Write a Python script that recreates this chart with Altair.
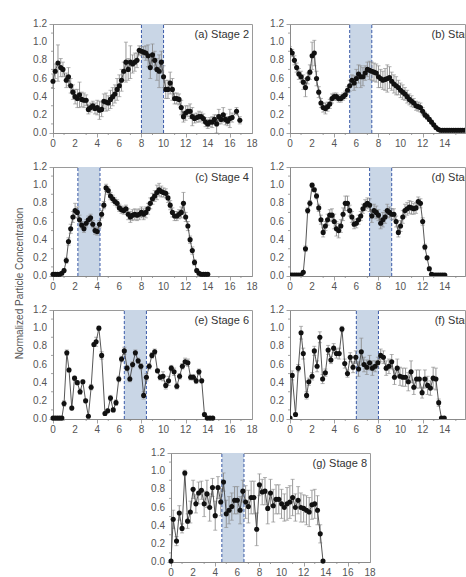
import altair as alt
import pandas as pd

# ---- data: normalized particle concentration vs. position, per stage ----
xa = [0.0, 0.2, 0.45, 0.7, 0.9, 1.2, 1.4, 1.6, 1.8, 2.0, 2.2, 2.4, 2.6, 2.8, 3.0, 3.2, 3.4, 3.6, 3.8, 4.0,
      4.2, 4.4, 4.6, 4.8, 5.0, 5.2, 5.4, 5.6, 5.8, 6.0, 6.2, 6.4, 6.6, 6.8, 7.0, 7.2, 7.4, 7.6, 7.8, 8.0,
      8.2, 8.4, 8.6, 8.8, 9.0, 9.2, 9.4, 9.6, 9.8, 10.0, 10.2, 10.4, 10.6, 10.8, 11.0, 11.2, 11.4, 11.6, 11.8, 12.0,
      12.2, 12.4, 12.6, 12.8, 13.0, 13.2, 13.4, 13.6, 13.8, 14.0, 14.2, 14.4, 14.6, 14.8, 15.0, 15.2, 15.4, 15.6, 15.8, 16.0,
      16.2, 16.6, 16.9]
ya = [0.57, 0.68, 0.77, 0.72, 0.70, 0.58, 0.62, 0.52, 0.45, 0.40, 0.38, 0.42, 0.37, 0.36, 0.36, 0.26, 0.28, 0.30, 0.27, 0.28,
      0.25, 0.26, 0.35, 0.34, 0.33, 0.37, 0.40, 0.43, 0.48, 0.52, 0.58, 0.68, 0.78, 0.70, 0.78, 0.76, 0.78, 0.80, 0.91, 0.90,
      0.89, 0.88, 0.85, 0.72, 0.86, 0.80, 0.70, 0.68, 0.78, 0.62, 0.48, 0.48, 0.55, 0.48, 0.38, 0.38, 0.37, 0.28, 0.18, 0.22,
      0.24, 0.24, 0.18, 0.16, 0.17, 0.18, 0.18, 0.16, 0.12, 0.10, 0.12, 0.12, 0.15, 0.10, 0.18, 0.15, 0.20, 0.15, 0.13, 0.16,
      0.17, 0.24, 0.14]
ea = [0.08, 0.08, 0.20, 0.10, 0.08, 0.08, 0.10, 0.08, 0.08, 0.08, 0.10, 0.14, 0.08, 0.08, 0.06, 0.05, 0.05, 0.05, 0.06, 0.08,
      0.10, 0.08, 0.08, 0.10, 0.08, 0.10, 0.10, 0.10, 0.12, 0.12, 0.12, 0.10, 0.22, 0.12, 0.18, 0.10, 0.10, 0.08, 0.05, 0.05,
      0.06, 0.08, 0.12, 0.12, 0.12, 0.10, 0.12, 0.18, 0.12, 0.12, 0.10, 0.10, 0.12, 0.12, 0.06, 0.06, 0.06, 0.08, 0.06, 0.08,
      0.06, 0.08, 0.10, 0.05, 0.05, 0.06, 0.05, 0.05, 0.05, 0.05, 0.05, 0.06, 0.05, 0.10, 0.08, 0.05, 0.08, 0.06, 0.05, 0.10,
      0.05, 0.04, 0.04]

xb = [0.0, 0.2, 0.4, 0.6, 0.8, 1.0, 1.2, 1.4, 1.6, 1.8, 2.0, 2.2, 2.4, 2.6, 2.8, 3.0, 3.2, 3.4, 3.6, 3.8,
      4.0, 4.2, 4.4, 4.6, 4.8, 5.0, 5.2, 5.4, 5.6, 5.8, 6.0, 6.2, 6.4, 6.6, 6.8, 7.0, 7.2, 7.4, 7.6, 7.8,
      8.0, 8.2, 8.4, 8.6, 8.8, 9.0, 9.2, 9.4, 9.6, 9.8, 10.0, 10.2, 10.4, 10.6, 10.8, 11.0, 11.2, 11.4, 11.6, 11.8,
      12.0, 12.2, 12.4, 12.6, 12.8, 13.0, 13.2, 13.4, 13.6, 13.8, 14.0, 14.2, 14.4, 14.6, 14.8, 15.0, 15.2, 15.4, 15.6, 15.8,
      16.0]
yb = [0.91, 0.88, 0.80, 0.72, 0.65, 0.62, 0.56, 0.50, 0.60, 0.67, 0.85, 0.88, 0.60, 0.45, 0.33, 0.28, 0.27, 0.29, 0.32, 0.38,
      0.40, 0.40, 0.38, 0.38, 0.40, 0.42, 0.47, 0.52, 0.58, 0.55, 0.60, 0.65, 0.62, 0.62, 0.66, 0.70, 0.69, 0.68, 0.67, 0.66,
      0.62, 0.60, 0.58, 0.59, 0.60, 0.61, 0.57, 0.54, 0.52, 0.50, 0.47, 0.45, 0.43, 0.40, 0.37, 0.35, 0.33, 0.30, 0.29, 0.28,
      0.24, 0.20, 0.18, 0.15, 0.12, 0.09, 0.06, 0.04, 0.03, 0.03, 0.03, 0.03, 0.03, 0.03, 0.03, 0.03, 0.03, 0.03, 0.03, 0.03,
      0.03]
eb = [0.04, 0.04, 0.05, 0.05, 0.06, 0.06, 0.08, 0.10, 0.06, 0.08, 0.15, 0.14, 0.08, 0.06, 0.05, 0.05, 0.06, 0.05, 0.05, 0.05,
      0.04, 0.04, 0.04, 0.04, 0.04, 0.04, 0.04, 0.06, 0.06, 0.08, 0.10, 0.10, 0.12, 0.10, 0.08, 0.08, 0.10, 0.10, 0.10, 0.10,
      0.12, 0.10, 0.10, 0.12, 0.15, 0.12, 0.10, 0.10, 0.10, 0.08, 0.08, 0.08, 0.07, 0.07, 0.06, 0.06, 0.05, 0.05, 0.05, 0.05,
      0.04, 0.03, 0.03, 0.02, 0.02, 0.01, 0.01, 0.01, 0.01, 0.01, 0.01, 0.01, 0.01, 0.01, 0.01, 0.01, 0.01, 0.01, 0.01, 0.01,
      0.01]

xc = [0.0, 0.2, 0.4, 0.6, 0.8, 1.0, 1.2, 1.4, 1.6, 1.8, 2.0, 2.2, 2.4, 2.6, 2.8, 3.0, 3.2, 3.4, 3.6, 3.8,
      4.0, 4.2, 4.4, 4.6, 4.8, 5.0, 5.2, 5.4, 5.6, 5.8, 6.0, 6.2, 6.4, 6.6, 6.8, 7.0, 7.2, 7.4, 7.6, 7.8,
      8.0, 8.2, 8.4, 8.6, 8.8, 9.0, 9.2, 9.4, 9.6, 9.8, 10.0, 10.2, 10.4, 10.6, 10.8, 11.0, 11.2, 11.4, 11.6, 11.8,
      12.0, 12.2, 12.4, 12.6, 12.8, 13.0, 13.2, 13.4, 13.6, 13.8, 14.0]
yc = [0.02, 0.02, 0.02, 0.02, 0.03, 0.06, 0.17, 0.38, 0.52, 0.65, 0.72, 0.70, 0.62, 0.56, 0.52, 0.58, 0.62, 0.64, 0.57, 0.50,
      0.49, 0.57, 0.68, 0.78, 0.97, 0.94, 0.88, 0.85, 0.82, 0.80, 0.75, 0.73, 0.72, 0.74, 0.68, 0.65, 0.67, 0.68, 0.67, 0.68,
      0.70, 0.68, 0.70, 0.74, 0.80, 0.85, 0.88, 0.92, 0.95, 0.93, 0.92, 0.91, 0.86, 0.78, 0.70, 0.66, 0.66, 0.68, 0.70, 0.80,
      0.65, 0.55, 0.40, 0.28, 0.15, 0.06, 0.03, 0.02, 0.02, 0.02, 0.02]
ec = [0.01, 0.01, 0.01, 0.01, 0.01, 0.02, 0.03, 0.04, 0.05, 0.06, 0.08, 0.06, 0.05, 0.04, 0.04, 0.04, 0.04, 0.04, 0.04, 0.04,
      0.04, 0.04, 0.04, 0.04, 0.04, 0.04, 0.04, 0.04, 0.04, 0.04, 0.04, 0.04, 0.04, 0.04, 0.06, 0.06, 0.06, 0.06, 0.06, 0.06,
      0.06, 0.06, 0.06, 0.06, 0.06, 0.06, 0.06, 0.08, 0.07, 0.06, 0.05, 0.05, 0.05, 0.05, 0.05, 0.05, 0.05, 0.05, 0.06, 0.12,
      0.05, 0.05, 0.04, 0.04, 0.03, 0.02, 0.01, 0.01, 0.01, 0.01, 0.01]

xd = list(xc)
yd = [0.01, 0.01, 0.01, 0.01, 0.01, 0.01, 0.04, 0.30, 0.72, 0.80, 1.00, 0.95, 0.88, 0.75, 0.62, 0.48, 0.55, 0.62, 0.67, 0.67,
      0.60, 0.52, 0.50, 0.55, 0.68, 0.80, 0.80, 0.72, 0.65, 0.57, 0.58, 0.62, 0.66, 0.74, 0.78, 0.80, 0.78, 0.66, 0.72, 0.70,
      0.67, 0.58, 0.62, 0.65, 0.72, 0.70, 0.68, 0.68, 0.60, 0.48, 0.55, 0.65, 0.72, 0.74, 0.76, 0.75, 0.74, 0.75, 0.82, 0.80,
      0.60, 0.32, 0.20, 0.08, 0.02, 0.01, 0.01, 0.01, 0.01, 0.01, 0.01]
ed = [0.01, 0.01, 0.01, 0.01, 0.01, 0.01, 0.01, 0.03, 0.03, 0.03, 0.02, 0.02, 0.03, 0.04, 0.05, 0.05, 0.05, 0.06, 0.06, 0.07,
      0.08, 0.08, 0.08, 0.07, 0.07, 0.08, 0.08, 0.06, 0.06, 0.05, 0.05, 0.05, 0.05, 0.05, 0.06, 0.06, 0.07, 0.07, 0.07, 0.07,
      0.06, 0.06, 0.08, 0.07, 0.07, 0.06, 0.06, 0.06, 0.06, 0.05, 0.06, 0.07, 0.07, 0.07, 0.07, 0.07, 0.06, 0.06, 0.05, 0.05,
      0.04, 0.03, 0.02, 0.02, 0.01, 0.01, 0.01, 0.01, 0.01, 0.01, 0.01]

xe = [0.0, 0.2, 0.4, 0.6, 0.8, 1.0, 1.25, 1.45, 1.7, 1.95, 2.2, 2.45, 2.7, 2.95, 3.2, 3.45, 3.7, 3.9, 4.15, 4.4,
      4.7, 4.95, 5.2, 5.45, 5.7, 5.95, 6.2, 6.45, 6.7, 6.95, 7.2, 7.45, 7.7, 7.95, 8.2, 8.45, 8.7, 8.95, 9.2, 9.45,
      9.7, 9.95, 10.2, 10.45, 10.7, 10.95, 11.2, 11.45, 11.7, 11.95, 12.2, 12.45, 12.7, 12.95, 13.2, 13.45, 13.7, 13.95, 14.2, 14.45]
ye = [0.01, 0.01, 0.01, 0.01, 0.01, 0.17, 0.73, 0.54, 0.12, 0.45, 0.40, 0.30, 0.41, 0.20, 0.03, 0.35, 0.82, 0.85, 1.00, 0.70,
      0.06, 0.09, 0.23, 0.10, 0.18, 0.44, 0.66, 0.75, 0.56, 0.44, 0.60, 0.73, 0.64, 0.58, 0.26, 0.46, 0.58, 0.70, 0.74, 0.53,
      0.46, 0.47, 0.37, 0.42, 0.56, 0.52, 0.36, 0.47, 0.58, 0.63, 0.62, 0.46, 0.46, 0.42, 0.52, 0.42, 0.05, 0.01, 0.01, 0.01]
ee = [0.01, 0.01, 0.01, 0.01, 0.01, 0.03, 0.03, 0.02, 0.02, 0.02, 0.02, 0.03, 0.02, 0.02, 0.01, 0.03, 0.02, 0.05, 0.02, 0.04,
      0.02, 0.02, 0.03, 0.02, 0.03, 0.03, 0.03, 0.04, 0.03, 0.03, 0.03, 0.03, 0.03, 0.03, 0.04, 0.04, 0.03, 0.03, 0.03, 0.02,
      0.03, 0.05, 0.04, 0.05, 0.03, 0.04, 0.03, 0.03, 0.03, 0.04, 0.04, 0.03, 0.03, 0.03, 0.03, 0.02, 0.02, 0.01, 0.01, 0.01]

xf = [0.0, 0.2, 0.5, 0.75, 1.0, 1.2, 1.5, 1.7, 2.0, 2.2, 2.45, 2.7, 2.95, 3.2, 3.45, 3.7, 3.95, 4.2, 4.45, 4.7,
      4.95, 5.2, 5.45, 5.7, 5.95, 6.2, 6.45, 6.7, 6.95, 7.2, 7.45, 7.7, 7.95, 8.2, 8.45, 8.7, 8.95, 9.2, 9.45, 9.7,
      9.95, 10.2, 10.45, 10.7, 10.95, 11.2, 11.45, 11.7, 11.95, 12.2, 12.45, 12.7, 12.95, 13.2, 13.45, 13.7, 13.95]
yf = [0.01, 0.48, 0.05, 0.56, 0.95, 0.72, 0.26, 0.41, 0.47, 0.75, 0.58, 0.90, 0.44, 0.51, 0.76, 0.65, 0.78, 0.72, 0.72, 0.99,
      0.61, 0.50, 0.68, 0.57, 0.68, 0.55, 0.74, 0.60, 0.57, 0.62, 0.56, 0.58, 0.62, 0.70, 0.68, 0.56, 0.58, 0.63, 0.46, 0.56,
      0.47, 0.46, 0.46, 0.41, 0.52, 0.35, 0.44, 0.44, 0.29, 0.44, 0.37, 0.34, 0.45, 0.44, 0.18, 0.01, 0.01]
ef = [0.01, 0.05, 0.02, 0.04, 0.07, 0.06, 0.04, 0.04, 0.04, 0.05, 0.06, 0.06, 0.05, 0.04, 0.05, 0.04, 0.05, 0.05, 0.06, 0.03,
      0.05, 0.04, 0.05, 0.06, 0.07, 0.08, 0.15, 0.08, 0.08, 0.08, 0.08, 0.06, 0.06, 0.07, 0.07, 0.08, 0.08, 0.08, 0.08, 0.10,
      0.10, 0.10, 0.10, 0.10, 0.12, 0.08, 0.10, 0.10, 0.06, 0.10, 0.10, 0.08, 0.12, 0.12, 0.04, 0.01, 0.01]

xg = [0.0, 0.2, 0.5, 0.75, 1.0, 1.25, 1.5, 1.75, 2.0, 2.25, 2.5, 2.75, 3.0, 3.25, 3.5, 3.75, 4.0, 4.25, 4.5, 4.75,
      5.0, 5.25, 5.5, 5.75, 6.0, 6.25, 6.5, 6.75, 7.0, 7.25, 7.5, 7.75, 8.0, 8.25, 8.5, 8.75, 9.0, 9.25, 9.5, 9.75,
      10.0, 10.25, 10.5, 10.75, 11.0, 11.25, 11.5, 11.75, 12.0, 12.25, 12.5, 12.75, 13.0, 13.25, 13.5, 13.75]
yg = [0.01, 0.47, 0.23, 0.54, 0.37, 0.98, 0.45, 0.55, 0.80, 0.64, 0.76, 0.79, 0.64, 0.75, 0.60, 0.82, 0.51, 0.82, 0.66, 0.88,
      0.53, 0.57, 0.61, 0.68, 0.68, 0.57, 0.78, 0.66, 0.61, 0.71, 0.71, 0.36, 0.85, 0.77, 0.78, 0.59, 0.76, 0.62, 0.69, 0.69,
      0.64, 0.60, 0.64, 0.66, 0.71, 0.60, 0.68, 0.60, 0.59, 0.57, 0.55, 0.63, 0.64, 0.57, 0.31, 0.01]
eg = [0.01, 0.10, 0.05, 0.08, 0.05, 0.03, 0.08, 0.12, 0.10, 0.10, 0.12, 0.10, 0.14, 0.15, 0.15, 0.10, 0.16, 0.12, 0.15, 0.10,
      0.15, 0.15, 0.15, 0.15, 0.15, 0.15, 0.12, 0.18, 0.18, 0.18, 0.18, 0.18, 0.12, 0.14, 0.15, 0.17, 0.15, 0.18, 0.16, 0.16,
      0.16, 0.15, 0.18, 0.18, 0.20, 0.15, 0.15, 0.16, 0.15, 0.16, 0.16, 0.16, 0.16, 0.16, 0.10, 0.01]

labels = ["(a) Stage 2", "(b) Stage 3", "(c) Stage 4", "(d) Stage 5", "(e) Stage 6", "(f) Stage 7", "(g) Stage 8"]
bands = [(8.0, 10.0), (5.4, 7.4), (2.25, 4.25), (7.2, 9.2), (6.45, 8.45), (6.0, 8.0), (4.6, 6.6)]
x_major = [0, 2, 4, 6, 8, 10, 12, 14, 16, 18]
x_minor = [1, 3, 5, 7, 9, 11, 13, 15, 17]
y_major = [0.0, 0.2, 0.4, 0.6, 0.8, 1.0, 1.2]
y_minor = [0.1, 0.3, 0.5, 0.7, 0.9, 1.1]

W, H = 199, 109          # full panel plot area
W_RIGHT = 175            # right-hand column runs off the page edge
X_MAX = 18
FONT = "Liberation Sans"
GREY = "#555555"
AXIS_GREY = "#8a8a8a"

y_scale = alt.Scale(domain=[0, 1.2], nice=False)
y_axis = alt.Axis(values=y_major, title=None, grid=False, tickSize=4, labels=False)


def panel(label, xs, ys, es, band, width=W):
    full = width >= W
    x_hi = X_MAX * width / W
    x_scale = alt.Scale(domain=[0, x_hi], nice=False, zero=False)
    x_vals = [v for v in x_major if (v <= x_hi if full else v <= x_hi - 0.3)]
    x_axis = alt.Axis(values=x_vals, title=None, grid=False, tickSize=4, labels=False)

    df = pd.DataFrame({"x": xs, "y": ys, "e": es})
    base = alt.Chart(df).transform_calculate(lo="datum.y - datum.e", hi="datum.y + datum.e")

    band_df = pd.DataFrame({"x0": [band[0]], "x1": [band[1]]})
    shade = alt.Chart(band_df).mark_rect(color="#c9d6e6").encode(
        x=alt.X("x0:Q", scale=x_scale, axis=x_axis), x2="x1:Q",
        y=alt.datum(0, scale=y_scale, axis=y_axis), y2=alt.datum(1.2),
    )
    edges = pd.DataFrame({"edge": list(band)})
    dashes = alt.Chart(edges).mark_rule(color="#3a5aa8", strokeDash=[3, 2], strokeWidth=1).encode(
        x="edge:Q", y=alt.datum(0), y2=alt.datum(1.2),
    )

    # minor ticks outside the bottom and left axis lines
    mx = alt.Chart(pd.DataFrame({"m": [v for v in x_minor if v < x_hi]})).mark_rule(
        color=AXIS_GREY, strokeWidth=0.8).encode(x="m:Q", y=alt.value(H), y2=alt.value(H + 2))
    my = alt.Chart(pd.DataFrame({"m": y_minor})).mark_rule(
        color=AXIS_GREY, strokeWidth=0.8).encode(y="m:Q", x=alt.value(0), x2=alt.value(-2))

    # tick labels, placed through the panel scales
    xl = alt.Chart(pd.DataFrame({"v": x_vals})).transform_calculate(
        t="format(datum.v, 'd')").mark_text(
        font=FONT, fontSize=10, color=GREY, baseline="top", align="center").encode(
        x="v:Q", y=alt.value(H + 6), text="t:N")
    yl = alt.Chart(pd.DataFrame({"v": y_major})).transform_calculate(
        t="format(datum.v, '.1f')").mark_text(
        font=FONT, fontSize=10, color=GREY, baseline="middle", align="right").encode(
        y="v:Q", x=alt.value(-6), text="t:N")

    clip = not full
    bars = base.mark_rule(color="#8c8c8c", strokeWidth=0.9, clip=clip).encode(x="x:Q", y="lo:Q", y2="hi:Q")
    cap_hi = base.mark_point(shape="stroke", size=16, color="#8c8c8c", strokeWidth=0.9, clip=clip).encode(
        x="x:Q", y="hi:Q")
    cap_lo = base.mark_point(shape="stroke", size=16, color="#8c8c8c", strokeWidth=0.9, clip=clip).encode(
        x="x:Q", y="lo:Q")
    line = base.mark_line(color="#444444", strokeWidth=0.9, clip=clip).encode(x="x:Q", y="y:Q")
    dots = base.mark_circle(color="#111111", size=26, opacity=1, clip=clip).encode(x="x:Q", y="y:Q")

    tag = alt.Chart(pd.DataFrame({"t": [label]})).mark_text(
        align="right", baseline="top", font=FONT, fontSize=11, color="#333333", clip=clip,
    ).encode(text="t:N", x=alt.value(W - 3), y=alt.value(5))

    return alt.layer(shade, dashes, mx, my, xl, yl, bars, cap_hi, cap_lo, line, dots, tag).properties(
        width=width, height=H)


pa = panel(labels[0], xa, ya, ea, bands[0])
pb = panel(labels[1], xb, yb, eb, bands[1], W_RIGHT)
pc = panel(labels[2], xc, yc, ec, bands[2])
pd_ = panel(labels[3], xd, yd, ed, bands[3], W_RIGHT)
pe = panel(labels[4], xe, ye, ee, bands[4])
pf = panel(labels[5], xf, yf, ef, bands[5], W_RIGHT)
pg = panel(labels[6], xg, yg, eg, bands[6])

# invisible block that pushes the last panel toward the middle
spacer = alt.Chart(pd.DataFrame({"v": [0]})).mark_point(opacity=0, size=1).encode(
    x=alt.value(1), y=alt.value(1)
).properties(width=97, height=10, view=alt.ViewBackground(strokeOpacity=0))

HS, VS = 10, 11
chart = alt.vconcat(
    alt.hconcat(pa, pb, spacing=HS),
    alt.hconcat(pc, pd_, spacing=HS),
    alt.hconcat(pe, pf, spacing=HS),
    alt.hconcat(spacer, pg, spacing=0),
    spacing=VS,
).properties(
    title=alt.TitleParams(
        "Normalized Particle Concentration", orient="left", anchor="middle",
        font=FONT, fontSize=10, fontWeight="normal", color=GREY, offset=8, dx=15,
    ),
    padding={"left": 14, "top": 18, "right": 0, "bottom": 0},
).configure_view(
    stroke="#9a9a9a", strokeWidth=1,
).configure_axis(
    domainColor=AXIS_GREY, tickColor=AXIS_GREY, tickWidth=0.8, domainWidth=1,
)

chart.save("out.html", embed_options={"renderer": "svg", "actions": False})
